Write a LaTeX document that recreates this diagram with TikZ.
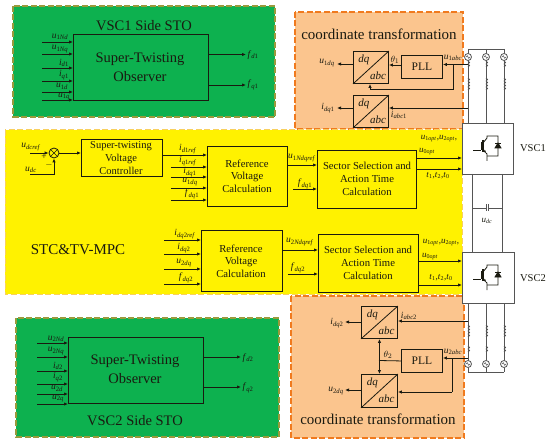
\documentclass[tikz,border=0pt]{standalone}
\usepackage{fontspec}
\setmainfont{Liberation Serif}
\usetikzlibrary{arrows.meta,calc}
\definecolor{gfill}{HTML}{0DB14F}
\definecolor{gedge}{HTML}{9A9A3C}
\definecolor{ofill}{HTML}{FBC58E}
\definecolor{oedge}{HTML}{F07A1E}
\definecolor{yedge}{HTML}{F8D060}
\definecolor{ink}{HTML}{1A1A10}
\definecolor{gridc}{HTML}{555555}
\newcommand\fs[1]{\fontsize{#1}{#1}\selectfont}
\newcommand\vv[2]{\textit{#1}\textsubscript{#2}}
\tikzset{
  wire/.style={draw=ink,line width=0.8pt},
  arr/.style={wire,-{Latex[length=4pt,width=3.4pt]}},
  blk/.style={draw=ink,line width=0.9pt,anchor=north west,inner sep=0pt,align=center},
  lab/.style={inner sep=0pt,text=ink,font=\fs{9.5}},
  big/.style={inner sep=0pt,text=ink,font=\fs{14.5}},
  mid/.style={inner sep=0pt,text=ink,font=\fs{10.7},align=center},
  gz/.style={draw=gridc,line width=0.8pt},
  pnlg/.style={fill=gfill,draw=gedge,line width=1.2pt,dash pattern=on 6pt off 2.5pt},
  pnlo/.style={fill=ofill,draw=oedge,line width=1.2pt,dash pattern=on 6pt off 2.5pt},
  pnly/.style={fill=yellow,draw=yedge,line width=1pt,dash pattern=on 6pt off 2.5pt},
}
\newcommand\bx[6][]{\node[blk,minimum width=#4pt-#2pt,minimum height=#5pt-#3pt,#1] (#6) at (#2,#3) {};}
\newcommand\inp[7]{\coordinate (#1) at (#2,#3); \draw[arr] (#1) -- (#1 -| #4.west); \node[lab] (#1t) at (#5,#6) {#7};}
\newcommand\outp[7]{\coordinate (#1) at (#2,#3); \draw[arr] (#1 -| #4.east) -- (#1); \node[lab] (#1t) at (#5,#6) {#7};}
\newcommand\dqabc[5]{\bx{#1}{#2}{#3}{#4}{#5}\draw[wire] (#5.south west) -- (#5.north east);
  \node[inner sep=0pt,font=\fs{11}\itshape,text=ink] (#5a) at ($(#5.center)+(-7,-8)$) {dq};
  \node[inner sep=0pt,font=\fs{11}\itshape,text=ink] (#5b) at ($(#5.center)+(7,8)$) {abc};}
\newcommand\coil[3]{%
  \foreach \k in {1,...,#3}{\draw[gz] (#1,#2+3*\k-3) arc (90:-90:1.5);}}
\newcommand\srcac[2]{\draw[gz,fill=white] (#1,#2) circle (3.5);
  \draw[gz,line width=.5pt] (#1-2,#2) .. controls (#1-1,#2-2.5) and (#1,#2-1) .. (#1,#2) .. controls (#1,#2+1) and (#1+1,#2+2.5) .. (#1+2,#2);}
\newcommand\igbt[1]{\begin{scope}[yshift=#1]
  \draw[wire] (473,150) -- (481,150) (481,142) -- (481,150);
  \draw[wire,line width=1.1pt] (483,140) -- (483,152);
  \draw[wire] (483,143) -- (487,138) -- (487,136) -- (498,136) -- (498,156) -- (487,156);
  \draw[wire,-{Latex[length=2.5pt,width=2.5pt]}] (483,149) -- (486,153);
  \draw[wire] (486,153) -- (487,154) -- (487,161);
  \draw[wire,fill=ink] (495,148) -- (501,148) -- (498,143) -- cycle;
  \draw[wire] (495,143) -- (501,143);
\end{scope}}
\begin{document}
\begin{tikzpicture}[x=1pt,y=-1pt]
\useasboundingbox (0,0) rectangle (550,444);
\path[pnlg] (13,6) rectangle (275,117);
\path[pnlo] (295,12) rectangle (463,129);
\path[pnly] (5,130) rectangle (462,294);
\path[pnlo] (291,296) rectangle (464,438);
\path[pnlg] (16,318) rectangle (279,437);
% ---------- STO 1
\node[big] (t1) at (144,26) {VSC1 Side STO};
\bx{73}{34}{208}{100}{sto1}
\node[big] (s1a) at (140,59) {Super-Twisting};
\node[big] (s1b) at (140,77) {Observer};
\inp{a1}{42}{42}{sto1}{60}{37}{\vv{u}{1\textit{Nd}}}
\inp{a2}{42}{54}{sto1}{60}{49}{\vv{u}{1\textit{Nq}}}
\inp{a3}{42}{68}{sto1}{64}{63}{\vv{i}{\textit{d}1}}
\inp{a4}{42}{81}{sto1}{64}{75}{\vv{i}{\textit{q}1}}
\inp{a5}{42}{92}{sto1}{62}{86.5}{\vv{u}{1\textit{d}}}
\inp{a6}{42}{100}{sto1}{64}{96.5}{\vv{u}{1\textit{q}}}
\outp{a7}{246}{54.5}{sto1}{253}{55}{\vv{f}{\textit{d}1}}
\outp{a8}{246}{85}{sto1}{253}{85}{\vv{f}{\textit{q}1}}
% ---------- STO 2
\node[big] (t2) at (135,421) {VSC2 Side STO};
\bx{68}{337}{203}{403}{sto2}
\node[big] (s2a) at (135,361) {Super-Twisting};
\node[big] (s2b) at (135,379) {Observer};
\inp{b1}{37}{343}{sto2}{56}{339}{\vv{u}{2\textit{Nd}}}
\inp{b2}{37}{357}{sto2}{56}{351}{\vv{u}{2\textit{Nq}}}
\inp{b3}{37}{371}{sto2}{58}{366}{\vv{i}{\textit{d}2}}
\inp{b4}{37}{384}{sto2}{58}{377}{\vv{i}{\textit{q}2}}
\inp{b5}{37}{394}{sto2}{57}{388.5}{\vv{u}{2\textit{d}}}
\inp{b6}{37}{404}{sto2}{58}{398.5}{\vv{u}{2\textit{q}}}
\outp{b7}{241}{357}{sto2}{248}{358}{\vv{f}{\textit{d}2}}
\outp{b8}{241}{387}{sto2}{248}{388}{\vv{f}{\textit{q}2}}
% ---------- top transformation
\node[big,font=\fs{15}] (c1) at (379,34) {coordinate transformation};
\dqabc{353}{51}{388}{83}{d1}
\dqabc{353}{95}{388}{127}{d2}
\bx{401}{55}{442}{78}{pll1}
\node[inner sep=0pt,font=\fs{11.5},text=ink] (pll1t) at (pll1.center) {PLL};
\coordinate (uo1) at (337,64);
\draw[arr] (d1.west |- uo1) -- (uo1);
\node[lab] (uo1t) at (327,63) {\vv{u}{1\textit{dq}}};
\coordinate (io1) at (337,108);
\draw[arr] (d2.west |- io1) -- (io1);
\node[lab] (io1t) at (328,108) {\vv{i}{\textit{dq}1}};
\draw[arr] (pll1.west |- 0,65) -- (d1.east |- 0,65);
\node[lab] (th1) at (395,60) {$\theta_1$};
\coordinate (g1a) at (468,64.5);
\coordinate (br1) at (453,64.5);
\draw[arr] (g1a) -- (pll1.east |- g1a);
\draw[arr] (br1) |- (370,89) -- (d1.south -| 370,0);
\node[lab] (ua1) at (453,58) {\vv{u}{1\textit{abc}}};
\coordinate (g1b) at (468,108);
\draw[arr] (g1b) -- (d2.east |- g1b);
\node[lab] (ia1) at (399,115) {\vv{i}{\textit{abc}1}};
% ---------- bottom transformation
\node[big,font=\fs{15}] (c2) at (378,419) {coordinate transformation};
\dqabc{361}{306}{397}{338}{d3}
\dqabc{361}{374}{397}{407}{d4}
\bx{401}{349}{442}{372}{pll2}
\node[inner sep=0pt,font=\fs{11.5},text=ink] (pll2t) at (pll2.center) {PLL};
\draw[wire] (pll2.west) -- (379,360.5);
\draw[wire,{Latex[length=4pt,width=3.4pt]}-{Latex[length=4pt,width=3.4pt]}] (d3.south) -- (d4.north);
\node[lab] (th2) at (388,355) {$\theta_2$};
\coordinate (io2) at (345,322);
\draw[arr] (d3.west |- io2) -- (io2);
\node[lab] (io2t) at (337,323) {\vv{i}{\textit{dq}2}};
\coordinate (uo2) at (345,390);
\draw[arr] (d4.west |- uo2) -- (uo2);
\node[lab] (uo2t) at (336,391) {\vv{u}{2\textit{dq}}};
\coordinate (g2a) at (468,358);
\coordinate (br2) at (452,358);
\draw[arr] (g2a) -- (pll2.east |- g2a);
\draw[wire] (br2) -- (452,392);
\draw[arr] (452,392) -- (d4.east |- 0,392);
\node[lab] (ua2) at (453,352) {\vv{u}{2\textit{abc}}};
\coordinate (g2b) at (468,321);
\draw[arr] (g2b) -- (d3.east |- g2b);
\node[lab] (ia2) at (409,316) {\vv{i}{\textit{abc}2}};
% ---------- voltage control
\node[draw=ink,line width=.8pt,circle,minimum size=10pt,inner sep=0pt] (sum) at (54,153) {};
\draw[wire,line width=.7pt] (sum.45) -- (sum.225) (sum.135) -- (sum.315);
\coordinate (ur) at (30,153);
\coordinate (ud) at (30,174);
\draw[arr] (ur) -- (sum);
\draw[arr] (ud) -| (sum);
\node[lab] (urt) at (31,147) {\vv{u}{\textit{dcref}}};
\node[lab] (udt) at (31,170) {\vv{u}{\textit{dc}}};
\node[lab] (plus) at (44,157) {+};
\node[lab] (minus) at (49,165) {$-$};
\bx{81}{139}{162}{176}{stc}
\node[inner sep=0pt,font=\fs{10.5},align=center,text=ink] (stct) at (121,158) {Super-twisting\\[2.5pt]Voltage\\[2.5pt]Controller};
\draw[arr] (sum) -- (stc.west |- sum);
% ---------- reference 1
\bx{207}{146}{287}{206}{ref1}
\node[mid] (ref1t) at (247,176) {Reference\\[2pt]Voltage\\[2pt]Calculation};
\inp{c1a}{162}{155}{ref1}{188}{149}{\vv{i}{\textit{d}1\textit{ref}}}
\inp{c2a}{171}{167}{ref1}{188}{161}{\vv{i}{\textit{q}1\textit{ref}}}
\inp{c3a}{171}{177}{ref1}{190}{172}{\vv{i}{\textit{dq}1}}
\inp{c4a}{171}{188}{ref1}{190}{182}{\vv{u}{1\textit{dq}}}
\inp{c5a}{171}{200}{ref1}{192}{194}{\vv{f}{\textit{dq}1}}
% ---------- sector 1
\bx{317}{150}{416}{208}{sec1}
\node[mid] (sec1t) at (367,179) {Sector Selection and\\[2pt]Action Time\\[2pt]Calculation};
\coordinate (e1) at (287,165);
\draw[arr] (e1) -- (sec1.west |- e1);
\node[lab] (e1t) at (302,158) {\vv{u}{1\textit{Ndqref}}};
\inp{e2}{293}{189}{sec1}{305}{184}{\vv{f}{\textit{dq}1}}
\coordinate (v1a) at (462,158);
\coordinate (v1b) at (462,169);
\draw[arr] (sec1.east |- v1a) -- (v1a);
\draw[arr] (sec1.east |- v1b) -- (v1b);
\node[lab,font=\fs{9}] (o1a) at (439,139) {\vv{u}{1\textit{opt}},\vv{u}{2\textit{opt}},};
\node[lab,font=\fs{9}] (o1b) at (427,152) {\vv{u}{0\textit{opt}}};
\node[lab,font=\fs{9}] (o1c) at (438,176) {\vv{t}{1},\vv{t}{2},\vv{t}{0}};
% ---------- reference 2
\bx{201}{230}{282}{291}{ref2}
\node[mid] (ref2t) at (241,261) {Reference\\[2pt]Voltage\\[2pt]Calculation};
\inp{c1b}{164}{240}{ref2}{185}{234}{\vv{i}{\textit{dq}2\textit{ref}}}
\inp{c2b}{164}{254}{ref2}{184}{248}{\vv{i}{\textit{dq}2}}
\inp{c3b}{164}{269}{ref2}{184}{263}{\vv{u}{2\textit{dq}}}
\inp{c4b}{164}{284}{ref2}{186}{278}{\vv{f}{\textit{dq}2}}
% ---------- sector 2
\bx{318}{234}{418}{292}{sec2}
\node[mid] (sec2t) at (368,263) {Sector Selection and\\[2pt]Action Time\\[2pt]Calculation};
\coordinate (f1) at (282,250);
\draw[arr] (f1) -- (sec2.west |- f1);
\node[lab] (f1t) at (300,242) {\vv{u}{2\textit{Ndqref}}};
\inp{f2}{288}{274}{sec2}{298}{268}{\vv{f}{\textit{dq}2}}
\coordinate (v2a) at (462,261);
\coordinate (v2b) at (462,285);
\draw[arr] (sec2.east |- v2a) -- (v2a);
\draw[arr] (sec2.east |- v2b) -- (v2b);
\node[lab,font=\fs{9}] (o2a) at (441,243) {\vv{u}{1\textit{opt}},\vv{u}{2\textit{opt}},};
\node[lab,font=\fs{9}] (o2b) at (430,257) {\vv{u}{0\textit{opt}}};
\node[lab,font=\fs{9}] (o2c) at (441,278) {\vv{t}{1},\vv{t}{2},\vv{t}{0}};
\node[inner sep=0pt,text=ink,font=\fs{15}] (mpc) at (78,250) {STC\&TV-MPC};
% ---------- grid
\draw[gz] (468,49) -- (504,49);
\draw[gz] (468,372) -- (504,372);
\foreach \x in {468,486,504}{
  \draw[gz] (\x,49) -- (\x,123);
  \draw[gz] (\x,303) -- (\x,372);
  \srcac{\x}{57}
  \srcac{\x}{364}
  \coil{\x}{64}{2}
  \coil{\x}{81}{4}
  \coil{\x}{328}{4}
  \coil{\x}{349}{2}
}
% ---------- converters
\node[blk,draw=gridc,fill=white,minimum width=51pt,minimum height=51pt] (vsc1) at (462,123) {};
\node[blk,draw=gridc,fill=white,minimum width=52pt,minimum height=51pt] (vsc2) at (462,252) {};
\igbt{0pt}
\igbt{-129pt}
\node[inner sep=0pt,text=ink,font=\fs{10.5}] (vsc1t) at (533,148) {VSC1};
\node[inner sep=0pt,text=ink,font=\fs{10.5}] (vsc2t) at (533,278) {VSC2};
\coordinate (l1) at (472,174); \coordinate (l2) at (472,252);
\coordinate (r1) at (502,174); \coordinate (r2) at (502,252);
\draw[gz] (l1) -- (l2) (r1) -- (r2);
\draw[gz] (472,208) -- (486,208) (488.5,208) -- (502,208);
\draw[gz,line width=1pt] (486,204.5) -- (486,211.5) (488.5,204.5) -- (488.5,211.5);
\node[lab,font=\fs{9}] (udc) at (487,221) {\vv{u}{\textit{dc}}};
\end{tikzpicture}
\end{document}
